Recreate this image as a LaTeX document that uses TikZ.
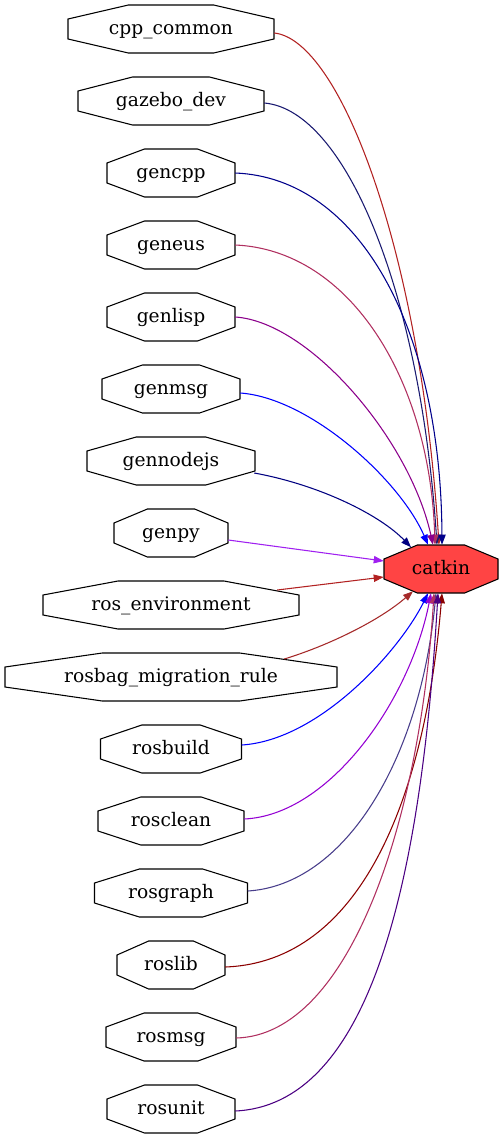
\documentclass[tikz,border=0pt]{standalone}
\usepackage{fontspec}
\setmainfont{DejaVu Serif}
\usetikzlibrary{arrows.meta,calc}

\definecolor{firebrick}{HTML}{B22222}
\definecolor{midnight}{HTML}{191970}
\definecolor{navyblue}{HTML}{00008B}
\definecolor{maroonpink}{HTML}{B03060}
\definecolor{darkmagenta}{HTML}{8B008B}
\definecolor{navy}{HTML}{000080}
\definecolor{xpurple}{HTML}{A020F0}
\definecolor{brown}{HTML}{A52A2A}
\definecolor{darkviolet}{HTML}{9400D3}
\definecolor{slateblue}{HTML}{483D8B}
\definecolor{darkred}{HTML}{8B0000}
\definecolor{indigo}{HTML}{4B0082}
\definecolor{catkinred}{HTML}{FF4444}

% [fill]{name}{x}{y}{half width}{label}
\newcommand{\octnode}[6][]{%
	\draw[line width=0.8pt, #1] ({#3-#5},{#4-10}) -- ({#3-0.414*#5},{#4-24}) -- ({#3+0.414*#5},{#4-24}) -- ({#3+#5},{#4-10}) -- ({#3+#5},{#4+10}) -- ({#3+0.414*#5},{#4+24}) -- ({#3-0.414*#5},{#4+24}) -- ({#3-#5},{#4+10}) -- cycle;
	\node[pkg, minimum width={2*#5*0.75pt}] (#2) at (#3,#4) {#6};
}

\begin{document}
\begin{tikzpicture}[x=0.75pt,y=-0.75pt,
		pkg/.style={inner sep=0pt, minimum height=36pt, text height=11.4pt, text depth=3pt, font=\fontsize{14pt}{16pt}\selectfont},
		dep/.style={line width=0.8pt, -{Triangle[length=7.5pt,width=5.5pt]}}]
	\useasboundingbox (0,0) rectangle (503,1139);

	\octnode{cppcommon}{171}{29}{103}{cpp\_common}
	\octnode{gazebodev}{171}{101}{93}{gazebo\_dev}
	\octnode{gencpp}{171}{173}{64}{gencpp}
	\octnode{geneus}{171}{245}{64}{geneus}
	\octnode{genlisp}{171}{317}{64}{genlisp}
	\octnode{genmsg}{171}{389}{69}{genmsg}
	\octnode{gennodejs}{171}{461}{84}{gennodejs}
	\octnode{genpy}{171}{533}{57}{genpy}
	\octnode{rosenv}{171}{605}{128}{ros\_environment}
	\octnode{rosbag}{171}{677}{166}{rosbag\_migration\_rule}
	\octnode{rosbuild}{171}{749}{70.5}{rosbuild}
	\octnode{rosclean}{171}{821}{73}{rosclean}
	\octnode{rosgraph}{171}{893}{76.5}{rosgraph}
	\octnode{roslib}{171}{965}{54}{roslib}
	\octnode{rosmsg}{171}{1037}{65}{rosmsg}
	\octnode{rosunit}{171}{1109}{64}{rosunit}
	\octnode[fill=catkinred]{catkin}{441}{569}{57}{catkin}

	\draw[dep, firebrick] ($(cppcommon.east)+(0,4)$) .. controls (340,40) and (420,250) .. ($(catkin.north)+(-2,0)$);
	\draw[dep, midnight] ($(gazebodev.east)+(0,2)$) .. controls (345,110) and (420,290) .. ($(catkin.north)+(-4,0)$);
	\draw[dep, navyblue] (gencpp.east) .. controls (360,178) and (441,330) .. ($(catkin.north)+(1,0)$);
	\draw[dep, maroonpink] (geneus.east) .. controls (350,250) and (430,380) .. ($(catkin.north)+(-6,0)$);
	\draw[dep, darkmagenta] (genlisp.east) .. controls (310,322) and (410,440) .. ($(catkin.north)+(-8,0)$);
	\draw[dep, blue] ($(genmsg.east)+(0,4)$) .. controls (310,398) and (400,480) .. ($(catkin.north)+(-13,0)$);
	\draw[dep, navy] ($(gennodejs.east)+(-1,12)$) .. controls (320,485) and (380,515) .. ($(catkin.north)+(-30,2.5)$);
	\draw[dep, xpurple] ($(genpy.east)+(0,7)$) -- ($(catkin.west)+(0,-8)$);
	\draw[dep, firebrick] ($(rosenv.east)+(-22,-15)$) -- ($(catkin.west)+(0,8)$);
	\draw[dep, brown] ($(rosbag.east)+(-53,-18)$) .. controls (330,645) and (380,620) .. ($(catkin.south)+(-28,-2)$);
	\draw[dep, blue] ($(rosbuild.east)+(0,-4)$) .. controls (320,740) and (400,650) .. ($(catkin.south)+(-13,0)$);
	\draw[dep, darkviolet] ($(rosclean.east)+(0,-2)$) .. controls (330,815) and (410,700) .. ($(catkin.south)+(-10,0)$);
	\draw[dep, slateblue] ($(rosgraph.east)+(0,-2)$) .. controls (345,885) and (420,760) .. ($(catkin.south)+(-5,0)$);
	\draw[dep, darkred] ($(roslib.east)+(0,2)$) .. controls (360,962) and (425,800) .. ($(catkin.south)+(1,0)$);
	\draw[dep, maroonpink] ($(rosmsg.east)+(0,1)$) .. controls (350,1035) and (420,820) .. ($(catkin.south)+(-7,0)$);
	\draw[dep, indigo] ($(rosunit.east)+(0,2)$) .. controls (365,1105) and (420,900) .. ($(catkin.south)+(-3,0)$);
\end{tikzpicture}
\end{document}
